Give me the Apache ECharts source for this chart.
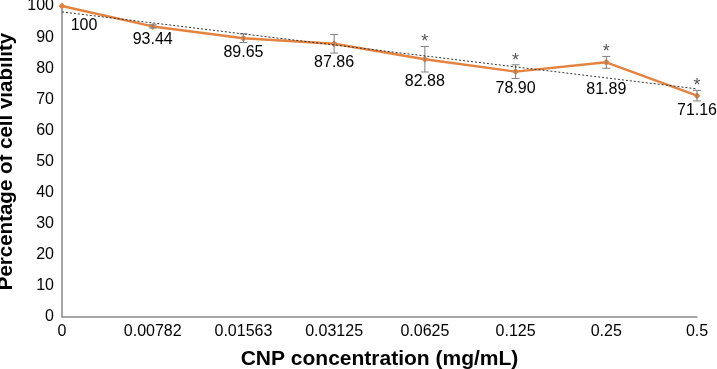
<!DOCTYPE html>
<html>
<head>
<meta charset="utf-8">
<script src="https://cdn.jsdelivr.net/npm/echarts@6/dist/echarts.min.js"></script>
<style>
  html, body { margin: 0; padding: 0; background: #fff; }
  #chart { width: 717px; height: 369px; }
</style>
</head>
<body>
<div id="chart"></div>
<script>
// values
const concentrations = ['0', '0.00782', '0.01563', '0.03125', '0.0625', '0.125', '0.25', '0.5']
const viability = [100, 93.44, 89.65, 87.86, 82.88, 78.90, 81.89, 71.16]
const errors = [0, 0.5, 1.4, 3.0, 4.1, 2.2, 1.9, 1.7]
const significant = [false, false, false, false, true, true, true, true]
const trendEnds = [98.09, 73.35] // linear trendline at first and last category

// label placement (px below the point), tuned by eye
const labelDy = [20, 13, 14, 19, 22, 17, 27, 15]
const labelDx = [22, 0, 0, 0, 0, 0, 0, 0]

const orange = '#E3833F'
const font = '"Liberation Sans", Arial, sans-serif'

const chart = echarts.init(document.getElementById('chart'))

chart.setOption({
  animation: false,
  grid: { left: 62, right: 20, top: 6, bottom: 52, outerBoundsMode: 'none' },
  xAxis: {
    type: 'category',
    data: concentrations,
    boundaryGap: false,
    name: 'CNP concentration (mg/mL)',
    nameLocation: 'middle',
    nameGap: 32,
    nameTextStyle: { fontFamily: font, fontSize: 21, fontWeight: 'bold', color: '#000' },
    axisLine: { lineStyle: { color: '#898989', width: 1.5 } },
    axisTick: { show: false },
    axisLabel: { fontFamily: font, fontSize: 16, color: '#000', margin: 7 }
  },
  yAxis: {
    type: 'value',
    min: 0,
    max: 100,
    interval: 10,
    name: 'Percentage of cell viability',
    nameLocation: 'middle',
    nameGap: 43,
    nameTextStyle: { fontFamily: font, fontSize: 20.5, fontWeight: 'bold', color: '#000' },
    axisLine: { show: true, lineStyle: { color: '#898989', width: 1.5 } },
    axisTick: { show: false },
    splitLine: { show: false },
    axisLabel: { fontFamily: font, fontSize: 16, color: '#000', margin: 8 }
  },
  series: [
    {
      name: 'viability',
      type: 'line',
      data: viability,
      z: 3,
      symbol: 'diamond',
      symbolSize: 7,
      lineStyle: { color: orange, width: 2.5 },
      itemStyle: { color: orange },
      label: {
        show: true,
        position: 'bottom',
        fontFamily: font,
        fontSize: 16,
        color: '#000',
        formatter: p => p.value.toFixed(2).replace(/\.00$/, '')
      },
      labelLayout: params => ({
        x: params.rect.x + params.rect.width / 2 + labelDx[params.dataIndex],
        y: params.rect.y + params.rect.height / 2 + labelDy[params.dataIndex],
        align: 'center',
        verticalAlign: 'middle'
      }),
      markLine: {
        silent: true,
        symbol: 'none',
        label: { show: false },
        lineStyle: { color: '#333', type: [2, 2], width: 1 },
        data: [[
          { coord: [concentrations[0], trendEnds[0]] },
          { coord: [concentrations[concentrations.length - 1], trendEnds[1]] }
        ]]
      }
    },
    {
      name: 'error',
      type: 'custom',
      z: 4,
      data: viability.map((v, i) => [i, v, errors[i], significant[i] ? 1 : 0]),
      renderItem(params, api) {
        const i = api.value(0)
        const v = api.value(1)
        const e = api.value(2)
        const top = api.coord([i, v + e])
        const bot = api.coord([i, v - e])
        const children = []
        const style = { stroke: '#7f7f7f', lineWidth: 1 }
        if (e > 0) {
          children.push(
            { type: 'line', shape: { x1: top[0], y1: top[1], x2: bot[0], y2: bot[1] }, style },
            { type: 'line', shape: { x1: top[0] - 4, y1: top[1], x2: top[0] + 4, y2: top[1] }, style },
            { type: 'line', shape: { x1: bot[0] - 4, y1: bot[1], x2: bot[0] + 4, y2: bot[1] }, style }
          )
        }
        if (api.value(3)) {
          children.push({
            type: 'text',
            style: {
              x: top[0], y: top[1] - 4,
              text: '*',
              fill: '#555',
              font: '18px ' + font,
              align: 'center',
              verticalAlign: 'middle'
            }
          })
        }
        return { type: 'group', children }
      }
    }
  ]
})
</script>
</body>
</html>
